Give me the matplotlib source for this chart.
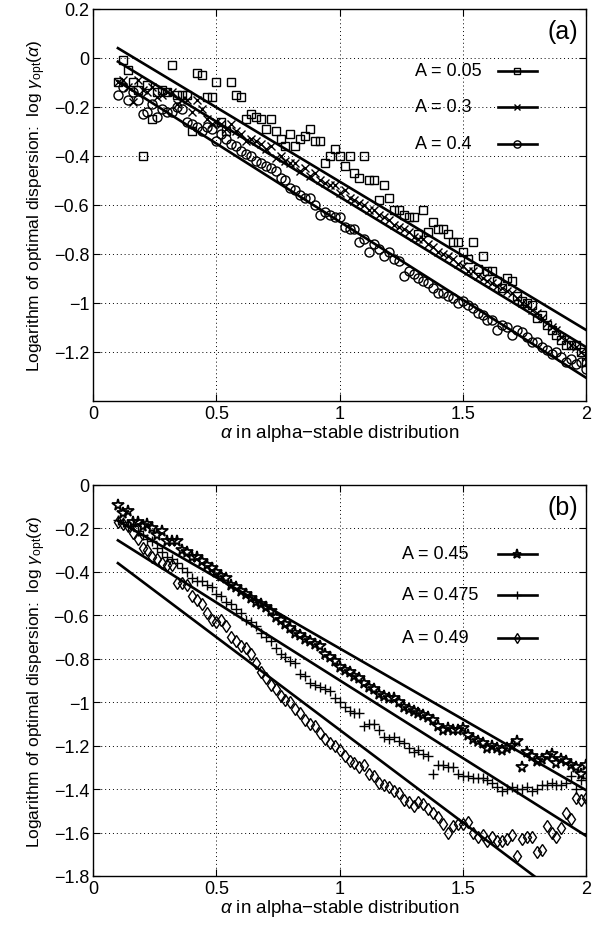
import numpy as np
import matplotlib
matplotlib.use("Agg")
import matplotlib.pyplot as plt

plt.rcParams["font.family"] = ["Liberation Sans", "DejaVu Sans"]
plt.rcParams["mathtext.fontset"] = "custom"
plt.rcParams["mathtext.rm"] = "Liberation Sans"
plt.rcParams["mathtext.it"] = "Liberation Sans:italic"

# alpha grid shared by all series
alpha = np.round(np.arange(0.10, 2.001, 0.02), 2)

# panel (a): A = 0.05 (squares)
a005 = [-0.10, -0.01, -0.05, -0.10, -0.13, -0.40, -0.11, -0.25, -0.14, -0.13,
        -0.14, -0.03, -0.15, -0.15, -0.15, -0.30, -0.06, -0.07, -0.16, -0.16,
        -0.10, -0.26, -0.30, -0.10, -0.15, -0.16, -0.25, -0.23, -0.24, -0.25,
        -0.29, -0.25, -0.30, -0.33, -0.36, -0.31, -0.36, -0.33, -0.32, -0.29,
        -0.34, -0.34, -0.43, -0.40, -0.37, -0.40, -0.44, -0.40, -0.47, -0.49,
        -0.40, -0.50, -0.50, -0.58, -0.52, -0.57, -0.62, -0.62, -0.64, -0.65,
        -0.65, -0.72, -0.62, -0.71, -0.67, -0.70, -0.70, -0.72, -0.75, -0.75,
        -0.79, -0.82, -0.75, -0.86, -0.81, -0.87, -0.87, -0.91, -0.94, -0.90,
        -0.91, -0.97, -0.99, -1.00, -1.01, -1.06, -1.05, -1.09, -1.11, -1.13,
        -1.15, -1.17, -1.17, -1.17, -1.20, -1.24]
# panel (a): A = 0.3 (x)
a03 = [-0.10, -0.09, -0.12, -0.18, -0.09, -0.13, -0.14, -0.12, -0.16, -0.15,
       -0.14, -0.14, -0.19, -0.17, -0.17, -0.22, -0.17, -0.21, -0.25, -0.27,
       -0.26, -0.27, -0.29, -0.27, -0.30, -0.31, -0.34, -0.33, -0.34, -0.35,
       -0.37, -0.36, -0.41, -0.40, -0.42, -0.43, -0.43, -0.46, -0.45, -0.48,
       -0.47, -0.50, -0.51, -0.52, -0.52, -0.55, -0.54, -0.57, -0.58, -0.59,
       -0.60, -0.62, -0.62, -0.64, -0.65, -0.66, -0.68, -0.69, -0.70, -0.71,
       -0.73, -0.74, -0.74, -0.76, -0.77, -0.79, -0.80, -0.81, -0.82, -0.84,
       -0.85, -0.87, -0.87, -0.89, -0.90, -0.91, -0.92, -0.93, -0.94, -0.95,
       -0.96, -0.98, -1.00, -1.01, -1.03, -1.04, -1.06, -1.08, -1.10, -1.11,
       -1.14, -1.15, -1.17, -1.18, -1.20, -1.22]
# panel (a): A = 0.4 (circles)
a04 = [-0.15, -0.12, -0.17, -0.14, -0.17, -0.23, -0.22, -0.19, -0.24, -0.21,
       -0.22, -0.22, -0.20, -0.21, -0.26, -0.27, -0.28, -0.30, -0.28, -0.29,
       -0.34, -0.31, -0.33, -0.35, -0.36, -0.38, -0.39, -0.40, -0.42, -0.43,
       -0.44, -0.45, -0.46, -0.49, -0.50, -0.53, -0.54, -0.56, -0.57, -0.57,
       -0.60, -0.64, -0.63, -0.64, -0.65, -0.65, -0.69, -0.70, -0.70, -0.75,
       -0.74, -0.79, -0.76, -0.78, -0.81, -0.79, -0.82, -0.83, -0.89, -0.87,
       -0.88, -0.90, -0.91, -0.92, -0.94, -0.96, -0.96, -0.97, -0.98, -1.00,
       -0.99, -1.01, -1.02, -1.04, -1.05, -1.07, -1.07, -1.11, -1.09, -1.10,
       -1.13, -1.11, -1.12, -1.14, -1.16, -1.16, -1.18, -1.19, -1.21, -1.20,
       -1.22, -1.24, -1.23, -1.25, -1.24, -1.27]
# fitted lines for panel (a): (value at alpha=0.1, value at alpha=2)
fit_a = [(0.04, -1.11), (-0.015, -1.18), (-0.095, -1.305)]

# panel (b): A = 0.45 (stars)
b045 = [-0.09, -0.13, -0.12, -0.17, -0.17, -0.19, -0.18, -0.20, -0.23, -0.21,
        -0.26, -0.26, -0.26, -0.30, -0.31, -0.33, -0.33, -0.35, -0.37, -0.38,
        -0.40, -0.42, -0.43, -0.46, -0.47, -0.49, -0.50, -0.52, -0.54, -0.55,
        -0.56, -0.58, -0.61, -0.62, -0.64, -0.66, -0.68, -0.69, -0.71, -0.72,
        -0.73, -0.74, -0.78, -0.79, -0.81, -0.84, -0.85, -0.86, -0.88, -0.89,
        -0.91, -0.93, -0.94, -0.96, -0.97, -0.98, -0.98, -1.00, -1.02, -1.03,
        -1.04, -1.05, -1.06, -1.07, -1.08, -1.11, -1.13, -1.12, -1.13, -1.13,
        -1.12, -1.15, -1.17, -1.18, -1.19, -1.21, -1.20, -1.21, -1.22, -1.21,
        -1.20, -1.18, -1.30, -1.23, -1.25, -1.27, -1.26, -1.25, -1.24, -1.28,
        -1.26, -1.27, -1.29, -1.30, -1.33, -1.29]
# panel (b): A = 0.475 (plus)
b0475 = [-0.16, -0.17, -0.19, -0.19, -0.21, -0.23, -0.25, -0.26, -0.29, -0.31,
         -0.33, -0.34, -0.36, -0.38, -0.40, -0.43, -0.44, -0.44, -0.46, -0.47,
         -0.50, -0.51, -0.54, -0.55, -0.57, -0.59, -0.62, -0.63, -0.65, -0.68,
         -0.70, -0.72, -0.75, -0.78, -0.79, -0.81, -0.82, -0.87, -0.88, -0.91,
         -0.92, -0.93, -0.94, -0.95, -0.98, -1.00, -1.02, -1.04, -1.05, -1.05,
         -1.11, -1.10, -1.10, -1.13, -1.16, -1.17, -1.16, -1.18, -1.19, -1.21,
         -1.23, -1.22, -1.24, -1.25, -1.33, -1.29, -1.29, -1.30, -1.30, -1.33,
         -1.34, -1.34, -1.35, -1.35, -1.35, -1.36, -1.37, -1.39, -1.41, -1.40,
         -1.39, -1.40, -1.40, -1.39, -1.41, -1.40, -1.38, -1.38, -1.37, -1.38,
         -1.38, -1.37, -1.34, -1.40, -1.36, -1.35]
# panel (b): A = 0.49 (diamonds)
b049 = [-0.17, -0.18, -0.19, -0.22, -0.25, -0.29, -0.30, -0.33, -0.34, -0.36,
        -0.37, -0.37, -0.45, -0.45, -0.46, -0.51, -0.53, -0.55, -0.59, -0.62,
        -0.63, -0.62, -0.65, -0.70, -0.72, -0.74, -0.75, -0.78, -0.82, -0.86,
        -0.89, -0.92, -0.94, -0.97, -0.99, -1.00, -1.03, -1.05, -1.08, -1.10,
        -1.11, -1.14, -1.17, -1.19, -1.20, -1.22, -1.25, -1.27, -1.28, -1.30,
        -1.29, -1.33, -1.34, -1.37, -1.38, -1.39, -1.41, -1.42, -1.45, -1.46,
        -1.48, -1.46, -1.47, -1.49, -1.51, -1.53, -1.56, -1.60, -1.57, -1.56,
        -1.56, -1.55, -1.60, -1.62, -1.61, -1.64, -1.62, -1.64, -1.64, -1.63,
        -1.61, -1.71, -1.63, -1.62, -1.62, -1.69, -1.68, -1.57, -1.60, -1.62,
        -1.58, -1.51, -1.54, -1.44, -1.45, -1.44]
# fitted lines for panel (b)
fit_b = [(-0.165, -1.405), (-0.255, -1.615), (-0.36, -1.98)]

labels_a = ["A = 0.05", "A = 0.3", "A = 0.4"]
labels_b = ["A = 0.45", "A = 0.475", "A = 0.49"]

fig = plt.figure(figsize=(6.07, 9.29), dpi=100)
ax1 = fig.add_axes([0.1537, 0.5673, 0.8117, 0.422])
ax2 = fig.add_axes([0.1537, 0.056, 0.8117, 0.4209])

ylab = r"Logarithm of optimal dispersion:  log $\gamma_{\rm opt}(\alpha)$"
xlab = r"$\alpha$ in alpha$-$stable distribution"


def draw_panel(ax, series, markers, sizes, widths, fits, labels, tag,
               leg_x, leg_y):
    fit_x = [0.1, 2.0]
    for i, (ys, mk, ms, mw, fit, lab) in enumerate(
            zip(series, markers, sizes, widths, fits, labels)):
        ax.plot(alpha, ys, linestyle="none", marker=mk, ms=ms, mfc="none",
                mec="black", mew=mw)
        ax.plot(fit_x, fit, color="black", lw=1.9)
        # legend entry: left-aligned text, then line sample with marker
        yl = leg_y[i]
        ax.text(leg_x, yl, lab, transform=ax.transAxes, ha="left",
                va="center", fontsize=13)
        ax.plot([0.821, 0.900], [yl, yl], transform=ax.transAxes,
                color="black", lw=1.9)
        ax.plot([0.8605], [yl], transform=ax.transAxes, marker=mk,
                ms=ms * 0.8, mfc="none", mec="black", mew=mw)
    ax.set_xlim(0, 2)
    ax.set_xticks([0, 0.5, 1, 1.5, 2])
    ax.set_xticklabels(["0", "0.5", "1", "1.5", "2"])
    ax.grid(True, color="black", linestyle=(0, (1, 3)), lw=0.7)
    ax.tick_params(direction="in", top=True, right=True, labelsize=13,
                   length=5, pad=3)
    for sp in ax.spines.values():
        sp.set_linewidth(1.0)
    ax.set_xlabel(xlab, fontsize=13.5, labelpad=0)
    ax.set_ylabel(ylab, fontsize=12.5, labelpad=4)
    ax.text(0.985, 0.975, tag, transform=ax.transAxes, ha="right", va="top",
            fontsize=18)


draw_panel(ax1, [a005, a03, a04], ["s", "x", "o"], [5.5, 5.5, 6.5],
           [1.0, 1.0, 1.0], fit_a, labels_a, "(a)", 0.653,
           [0.842, 0.750, 0.656])
ax1.set_ylim(-1.4, 0.2)
ax1.set_yticks([0.2, 0, -0.2, -0.4, -0.6, -0.8, -1, -1.2])
ax1.set_yticklabels(["0.2", "0", "\u22120.2", "\u22120.4", "\u22120.6",
                     "\u22120.8", "\u22121", "\u22121.2"])

draw_panel(ax2, [b045, b0475, b049], ["*", "+", "d"], [8.5, 7.5, 6.5],
           [1.3, 1.0, 1.0], fit_b, labels_b, "(b)", 0.627,
           [0.824, 0.719, 0.609])
ax2.set_ylim(-1.8, 0)
ax2.set_yticks([0, -0.2, -0.4, -0.6, -0.8, -1, -1.2, -1.4, -1.6, -1.8])
ax2.set_yticklabels(["0", "\u22120.2", "\u22120.4", "\u22120.6", "\u22120.8",
                     "\u22121", "\u22121.2", "\u22121.4", "\u22121.6",
                     "\u22121.8"])

fig.savefig("out.png", dpi=100)
